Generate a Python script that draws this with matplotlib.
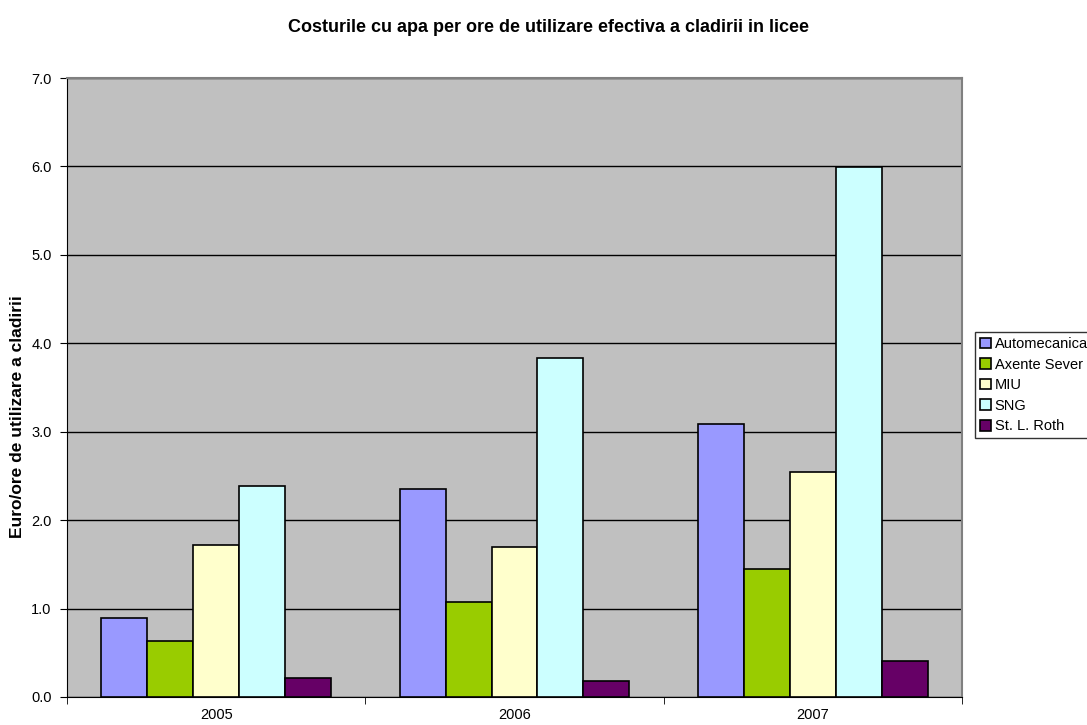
import numpy as np
import matplotlib.pyplot as plt

plt.rcParams['font.family'] = ['Liberation Sans', 'DejaVu Sans']

years = ['2005', '2006', '2007']
schools = ['Automecanica', 'Axente Sever', 'MIU', 'SNG', 'St. L. Roth']
automecanica = [0.89, 2.35, 3.09]
axente_sever = [0.63, 1.07, 1.45]
miu = [1.72, 1.70, 2.54]
sng = [2.39, 3.83, 5.99]
roth = [0.21, 0.18, 0.41]
colors = ['#9999FF', '#99CC00', '#FFFFCC', '#CCFFFF', '#660066']

series = [automecanica, axente_sever, miu, sng, roth]

fig = plt.figure(figsize=(10.87, 7.25), dpi=100)
ax = fig.add_axes([67 / 1087, 1 - 697 / 725, 895 / 1087, 619 / 725])
ax.set_facecolor('#C0C0C0')

x = np.arange(len(years))
w = 0.77 / len(series)
for i, (vals, c, name) in enumerate(zip(series, colors, schools)):
    ax.bar(x - 0.385 + w * (i + 0.5), vals, width=w, color=c, edgecolor='black',
           linewidth=1.2, label=name, zorder=3)

ax.set_xlim(-0.5, 2.5)
ax.set_ylim(0, 7)
ax.set_yticks(np.arange(0, 7.01, 1.0))
ax.set_yticklabels(['%.1f' % v for v in np.arange(0, 7.01, 1.0)], fontsize=10.5)
ax.yaxis.grid(True, color='black', linewidth=1, zorder=1)
ax.set_axisbelow(True)

ax.set_xticks(x)
ax.set_xticklabels(years, fontsize=10.5)
ax.tick_params(axis='x', length=0, pad=8)
ax.set_xticks([-0.5, 0.5, 1.5, 2.5], minor=True)
ax.tick_params(axis='x', which='minor', length=5, direction='out', color='black')
ax.tick_params(axis='y', length=5, direction='out', color='black', pad=6)

for s in ['top', 'right']:
    ax.spines[s].set_color('#808080')
    ax.spines[s].set_linewidth(1.5)
for s in ['left', 'bottom']:
    ax.spines[s].set_color('black')

ax.set_ylabel('Euro/ore de utilizare a cladirii', fontsize=12.5, fontweight='bold')
ax.yaxis.set_label_coords(-0.047, (697 - 417) / 619)
fig.text(548 / 1087, 1 - 27 / 725, 'Costurile cu apa per ore de utilizare efectiva a cladirii in licee',
         ha='center', va='center', fontsize=13, fontweight='bold')

leg = ax.legend(loc='upper left', bbox_to_anchor=(975 / 1087, 1 - 332 / 725),
                bbox_transform=fig.transFigure, fontsize=10.5, frameon=True, fancybox=False,
                edgecolor='black', handlelength=0.75, handleheight=0.75, handletextpad=0.25,
                labelspacing=0.45, borderpad=0.35, borderaxespad=0)
leg.get_frame().set_linewidth(1)

fig.savefig('out.png', dpi=100)
